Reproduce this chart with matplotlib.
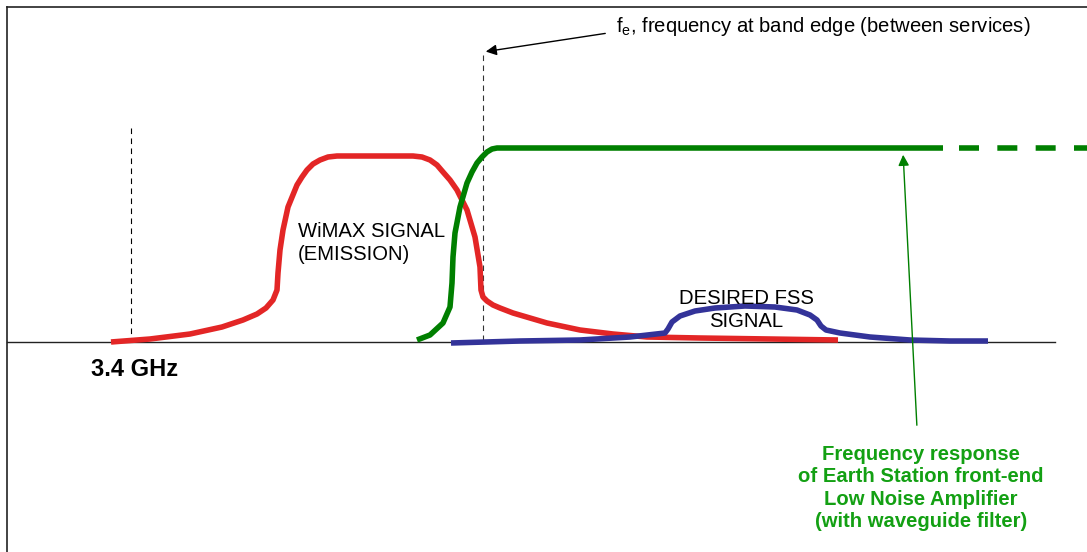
import matplotlib.pyplot as plt

plt.rcParams["font.family"] = ["Liberation Sans", "DejaVu Sans"]
plt.rcParams["mathtext.fontset"] = "custom"
plt.rcParams["mathtext.rm"] = "Liberation Sans"
plt.rcParams["mathtext.it"] = "Liberation Sans"

# --- schematic curves (pixel units) ---
wimax_x = [111, 150, 190, 222, 243, 257, 266, 273, 277, 278, 280, 283, 288, 297, 302,
           307, 313, 320, 328, 337, 413, 422, 430, 437, 443, 450, 457, 467, 475, 480,
           481, 483, 487, 493, 500, 513, 547, 580, 613, 647, 700, 770, 838]
wimax_y = [342, 339, 334, 327, 320, 314, 308, 300, 290, 273, 250, 230, 207, 185, 177,
           170, 164, 160, 157, 156, 156, 157, 160, 165, 172, 180, 190, 210, 237, 267,
           290, 297, 301, 305, 308, 313, 323, 330, 334, 337, 338, 339, 340]

lna_x = [417, 430, 443, 450, 452, 453, 455, 460, 467, 472, 477, 482, 487, 492, 497,
         510, 943]
lna_y = [340, 335, 323, 307, 283, 257, 233, 207, 183, 172, 163, 157, 152, 149, 148,
         148, 148]
lna_ext_x = [959, 1087]
lna_ext_y = [148, 148]

fss_x = [451, 520, 580, 630, 665, 668, 672, 680, 695, 715, 745, 775, 797, 810, 817,
         821, 826, 840, 870, 910, 950, 988]
fss_y = [343, 341, 340, 337, 333, 329, 322, 316, 311, 308, 306, 307, 310, 315, 320,
         326, 330, 333, 337, 340, 341, 341]

base_y = 342
ref_x = 131      # 3.4 GHz marker
edge_x = 483     # band edge f_e

fig = plt.figure(figsize=(10.87, 5.52), dpi=100)
ax = fig.add_axes([0, 0, 1, 1])
ax.set_xlim(0, 1087)
ax.set_ylim(552, 0)
ax.axis("off")

# frame and baseline
ax.plot([7, 7], [552, 7], color="#222222", lw=1.2)
ax.plot([7, 1087], [7, 7], color="#222222", lw=1.2)
ax.plot([7, 1055], [base_y, base_y], color="#222222", lw=1.0)

# dashed markers
ax.plot([ref_x, ref_x], [128, base_y], color="black", lw=0.8, ls=(0, (5, 4)))
ax.plot([edge_x, edge_x], [55, base_y], color="#333333", lw=0.8, ls=(0, (5, 4)))

# curves
ax.plot(wimax_x, wimax_y, color="#e32626", lw=4, solid_capstyle="butt",
        solid_joinstyle="round")
ax.plot(lna_x, lna_y, color="#007f00", lw=4, solid_capstyle="butt",
        solid_joinstyle="round")
ax.plot(lna_ext_x, lna_ext_y, color="#007f00", lw=4, ls=(0, (3.6, 3.3)),
        dash_capstyle="butt")
ax.plot(fss_x, fss_y, color="#333399", lw=4, solid_capstyle="butt",
        solid_joinstyle="round")

# annotations
ax.annotate("", xy=(edge_x, 52), xytext=(608, 33),
            arrowprops=dict(arrowstyle="-|>", color="black", lw=1, mutation_scale=16))
ax.text(616, 26, r"f$_\mathrm{e}$, frequency at band edge (between services)",
        fontsize=14.6, va="center", ha="left")

ax.annotate("", xy=(903, 152), xytext=(917, 428),
            arrowprops=dict(arrowstyle="-|>", color="#007f00", lw=1, mutation_scale=16))

ax.text(298, 243, "WiMAX SIGNAL\n(EMISSION)", fontsize=14.6, va="center", ha="left",
        linespacing=1.3)
ax.text(746, 310, "DESIRED FSS\nSIGNAL", fontsize=14.6, va="center", ha="center",
        linespacing=1.25)
ax.text(91, 369, "3.4 GHz", fontsize=17, fontweight="bold", va="center", ha="left")
ax.text(921, 488, "Frequency response\nof Earth Station front-end\nLow Noise Amplifier\n(with waveguide filter)",
        fontsize=14.6, fontweight="bold", color="#13a013", va="center", ha="center",
        linespacing=1.23)

fig.savefig("out.png", dpi=100)
